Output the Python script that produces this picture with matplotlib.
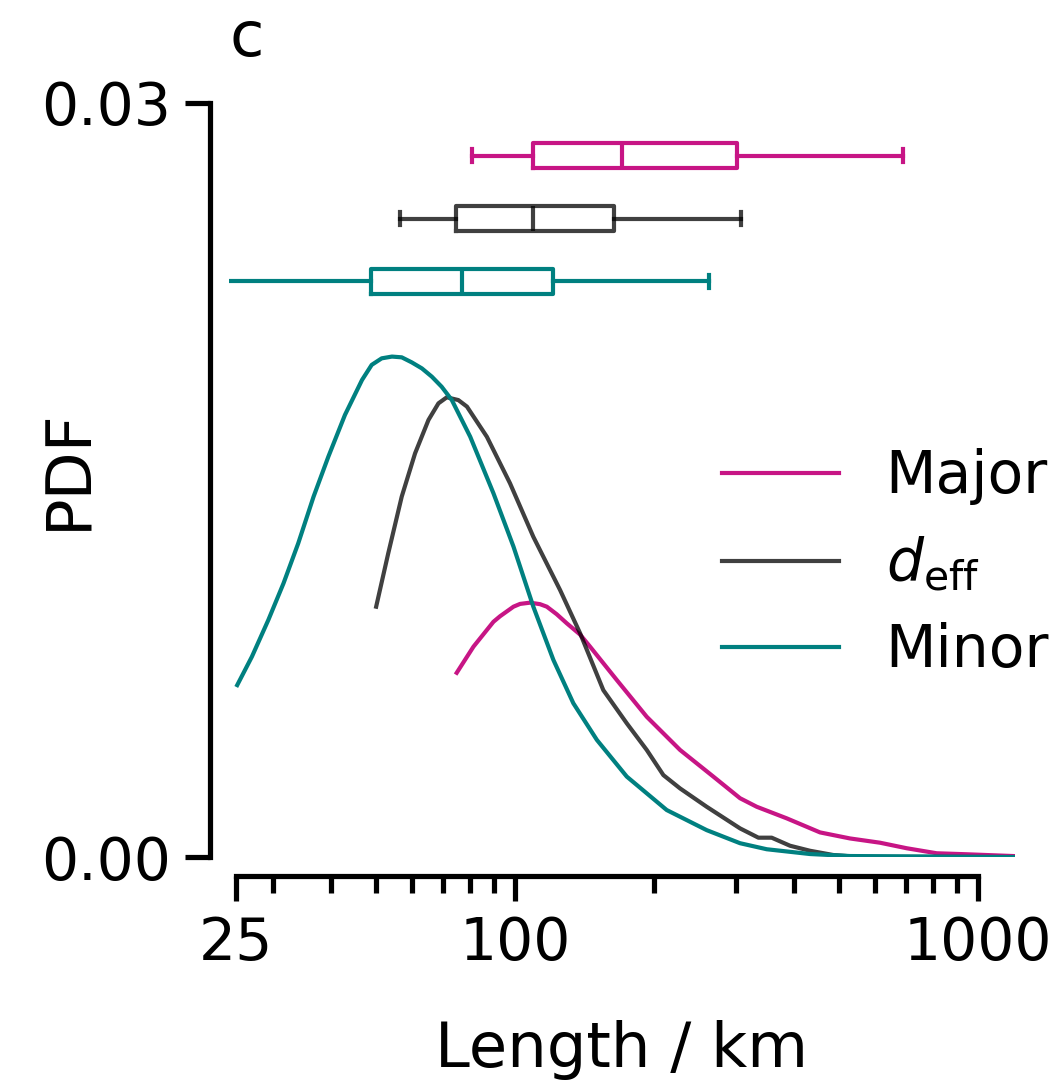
import numpy as np
import matplotlib.pyplot as plt
from matplotlib.ticker import FixedLocator, NullFormatter, LogLocator

# KDE curves (length in km, pdf x 1e-3)
major_x = [74.8, 81.3, 89.8, 92.8, 99.2, 102.5, 107.7, 113.2, 117.1, 123.0, 129.3, 138.2,
           145.2, 165.9, 192.5, 227.2, 268.1, 306.2, 332.7, 386.2, 455.8, 529, 614.3,
           701.5, 814.3, 945.4, 1190]
major_y = [7.33, 8.37, 9.36, 9.58, 9.96, 10.07, 10.12, 10.06, 9.96, 9.66, 9.30, 8.85,
           8.37, 7.04, 5.58, 4.26, 3.20, 2.34, 2.00, 1.54, 0.98, 0.74, 0.57,
           0.35, 0.15, 0.11, 0.04]

deff_x = [50.1, 53.2, 56.9, 60.8, 65.0, 68.3, 71.2, 75.4, 78.7, 86.9, 97.5, 109.5,
          125.1, 138.2, 155.1, 174.3, 192.5, 209.1, 227.2, 259.4, 306.2, 335.5,
          358.4, 392.6, 433.6, 487, 547, 1190]
deff_y = [9.96, 12.08, 14.34, 16.06, 17.39, 18.05, 18.29, 18.18, 17.92, 16.72, 14.87, 12.74,
          10.62, 8.90, 6.64, 5.32, 4.26, 3.26, 2.73, 2.00, 1.14, 0.77,
          0.77, 0.45, 0.25, 0.08, 0.01, 0.0]

minor_x = [25.1, 27.0, 29.3, 31.6, 34.0, 36.7, 39.5, 42.9, 46.7, 49.0, 51.5, 54.2, 56.9,
           59.8, 62.9, 66.1, 69.4, 73.0, 80.0, 89.8, 99.2, 109.5, 121.0, 133.6, 150.2,
           174.3, 212.6, 259.4, 306.2, 349.7, 433.6, 529, 1190]
minor_y = [6.84, 7.97, 9.43, 10.89, 12.48, 14.34, 15.93, 17.59, 18.98, 19.58, 19.84, 19.91, 19.88,
           19.68, 19.44, 19.11, 18.71, 18.18, 16.72, 14.47, 12.35, 9.96, 7.84, 6.12, 4.66,
           3.20, 1.87, 1.07, 0.55, 0.31, 0.12, 0.04, 0.0]

# box plot stats: whislo, q1, median, q3, whishi
labels = ['Major', r'$d_{\mathrm{eff}}$', 'Minor']
box_whislo = [80.7, 56.4, 20.0]
box_q1 = [109.4, 74.6, 48.9]
box_med = [170.2, 109.4, 76.8]
box_q3 = [301.7, 163.6, 120.8]
box_whishi = [688.0, 307.6, 262.4]
box_pos = [0.0279, 0.0254, 0.0229]

colors = ['#C71585', 'k', '#008080']
alphas = [1.0, 0.75, 1.0]

fig = plt.figure(figsize=(3.52, 3.6167), dpi=300)
ax = fig.add_axes([0.2169, 0.2101, 0.7439, 0.695])

curves = [(major_x, major_y), (deff_x, deff_y), (minor_x, minor_y)]
handles = []
for (xs, ys), c, a, lab in zip(curves, colors, alphas, labels):
    h, = ax.plot(xs, np.array(ys) * 1e-3, color=c, alpha=a, lw=1, label=lab)
    handles.append(h)

for i in range(3):
    st = [dict(whislo=box_whislo[i], q1=box_q1[i], med=box_med[i],
               q3=box_q3[i], whishi=box_whishi[i], fliers=[])]
    props = dict(color=colors[i], alpha=alphas[i], lw=1)
    ax.bxp(st, positions=[box_pos[i]], widths=0.001, orientation='horizontal',
           showfliers=False, manage_ticks=False,
           boxprops=props, whiskerprops=props, capprops=props, medianprops=props)

ax.set_xscale('log')
ax.set_xlim(24.1, 1200)
ax.set_ylim(0, 0.03)

ax.xaxis.set_major_locator(FixedLocator([25, 100, 1000]))
ax.set_xticklabels(['25', '100', '1000'])
ax.xaxis.set_minor_locator(LogLocator(subs=np.arange(2, 10)))
ax.xaxis.set_minor_formatter(NullFormatter())
ax.set_yticks([0, 0.03])
ax.set_yticklabels(['0.00', '0.03'])

for s in ['top', 'right']:
    ax.spines[s].set_visible(False)
for s in ['left', 'bottom']:
    ax.spines[s].set_position(('outward', 4.5))
    ax.spines[s].set_linewidth(1.25)
ax.spines['bottom'].set_bounds(25, 1000)
ax.spines['left'].set_bounds(0, 0.03)

ax.tick_params(which='major', length=6, width=1.25, labelsize=14)
ax.tick_params(which='minor', length=4, width=1.25)

ax.set_xlabel('Length / km', fontsize=15)
ax.set_ylabel('PDF', fontsize=15)
ax.xaxis.set_label_coords(0.5, -0.216)
ax.yaxis.set_label_coords(-0.165, 0.515)
ax.set_title('c', loc='left', pad=11.3, fontsize=15)

ax.legend(handles=handles, loc='center left', bbox_to_anchor=(0.561, 0.389),
          frameon=False, fontsize=14)

fig.savefig('out.png', dpi=300)
